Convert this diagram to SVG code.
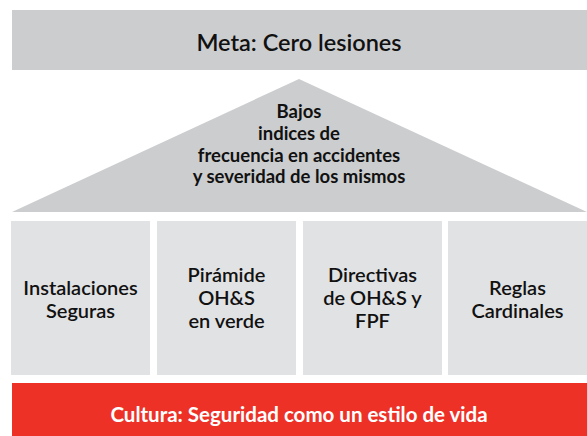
<svg xmlns="http://www.w3.org/2000/svg" width="587" height="436" viewBox="0 0 587 436">
<style>
.g{fill:#cccdcf}
.b{fill:#e1e2e4}
.t{font-family:Lato,"Liberation Sans",sans-serif;fill:#111;text-anchor:middle}
.m{font-size:23.5px;font-weight:600}
.tr{font-size:18.5px;font-weight:700}
.bx{font-size:20px;font-weight:600}
.r{font-size:20.5px;font-weight:700;fill:#fff}
</style>
<rect width="587" height="436" fill="#fff"/>
<g id="meta">
<rect class="g" x="12" y="10" width="575" height="60"/>
<text class="t m" x="299" y="51">Meta: Cero lesiones</text>
</g>
<g id="techo">
<polygon class="g" points="12,212 299,79 587,212"/>
<text class="t tr" x="299" y="118">Bajos</text>
<text class="t tr" x="299" y="140">indices de</text>
<text class="t tr" x="299" y="161.5">frecuencia en accidentes</text>
<text class="t tr" x="299" y="183">y severidad de los mismos</text>
</g>
<g id="instalaciones">
<rect class="b" x="11" y="221" width="139" height="154"/>
<text class="t bx" x="80.5" y="295">Instalaciones</text>
<text class="t bx" x="80.5" y="318">Seguras</text>
</g>
<g id="piramide">
<rect class="b" x="157" y="221" width="139" height="154"/>
<text class="t bx" x="226.5" y="282">Pirámide</text>
<text class="t bx" x="226.5" y="305">OH&amp;S</text>
<text class="t bx" x="226.5" y="328">en verde</text>
</g>
<g id="directivas">
<rect class="b" x="303" y="221" width="139" height="154"/>
<text class="t bx" x="372.5" y="282">Directivas</text>
<text class="t bx" x="372.5" y="305">de OH&amp;S y</text>
<text class="t bx" x="372.5" y="328">FPF</text>
</g>
<g id="reglas">
<rect class="b" x="448" y="221" width="139" height="154"/>
<text class="t bx" x="517.5" y="295">Reglas</text>
<text class="t bx" x="517.5" y="318">Cardinales</text>
</g>
<g id="cultura">
<rect x="12" y="383" width="575" height="53" fill="#ee3127"/>
<text class="t r" x="299" y="422">Cultura: Seguridad como un estilo de vida</text>
</g>
<g id="connectors"/>
</svg>
